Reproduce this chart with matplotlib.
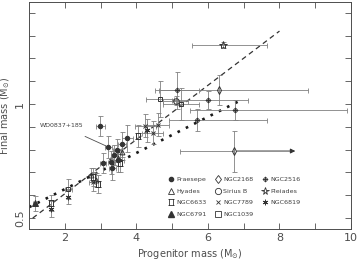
import matplotlib
matplotlib.use("Agg")
import matplotlib.pyplot as plt
from matplotlib.path import Path
from matplotlib.lines import Line2D

# cluster data: progenitor mass, final mass, errors
praesepe_x = [2.99, 3.21, 3.60, 3.74, 3.07, 3.32, 3.49, 3.46, 3.38, 3.30]
praesepe_y = [0.904, 0.812, 0.824, 0.850, 0.741, 0.718, 0.754, 0.797, 0.776, 0.745]
praesepe_xerr = [0.12, 0.10, 0.12, 0.15, 0.08, 0.10, 0.15, 0.12, 0.10, 0.10]
praesepe_yerr = [0.044, 0.05, 0.055, 0.06, 0.045, 0.05, 0.05, 0.05, 0.045, 0.05]

hyades_x = [2.72, 2.86, 3.48, 3.60]
hyades_y = [0.688, 0.668, 0.762, 0.79]
hyades_yerr = [0.03, 0.03, 0.035, 0.035]

ngc6633_x = [1.62, 2.78, 2.92, 3.55, 4.05]
ngc6633_y = [0.566, 0.68, 0.65, 0.74, 0.86]
ngc6633_yerr = [0.035, 0.04, 0.04, 0.04, 0.05]

ngc6791_x = [1.17]
ngc6791_y = [0.566]
ngc6791_yerr = [0.033]

ngc2168_x = [6.31, 6.73]
ngc2168_y = [1.061, 0.794]
ngc2168_xerr = [[1.8, 1.51], [2.5, 0.0]]
ngc2168_yerr = [0.065, 0.09]
arrow_to = 8.52  # lower limit on progenitor mass

siriusb_x = [5.10]
siriusb_y = [1.015]
siriusb_xerr = [0.35]
siriusb_yerr = [0.02]

ngc7789_x = [2.78, 4.25, 4.45, 4.60]
ngc7789_y = [0.66, 0.905, 0.875, 0.91]
ngc7789_yerr = [0.04, 0.05, 0.05, 0.05]
ngc7789_xerr = [0.1, 0.3, 0.3, 0.3]

ngc1039_x = [2.09, 4.66, 5.25]
ngc1039_y = [0.627, 1.022, 1.00]
ngc1039_yerr = [0.044, 0.08, 0.07]
ngc1039_xerr = [0.1, 0.4, 0.5]

ngc2516_x = [5.70, 6.00, 6.76, 5.14]
ngc2516_y = [0.93, 1.018, 0.974, 1.06]
ngc2516_xerr = [[0.8, 1.0, 1.26, 0.5], [1.96, 1.13, 3.14, 0.6]]
ngc2516_yerr = [0.05, 0.04, 0.045, 0.08]

pleiades_x = [6.43]
pleiades_y = [1.259]
pleiades_xerr = [[0.87], [1.23]]
pleiades_yerr = [0.015]

ngc6819_x = [1.62, 2.09, 4.30]
ngc6819_y = [0.54, 0.592, 0.885]
ngc6819_yerr = [0.036, 0.03, 0.05]

# fitted relations
dashed_x = [1.1, 8.0]
dashed_y = [0.50, 1.32]
dotted_x = [1.0, 6.96]
dotted_y = [0.548, 1.02]

# custom markers
bracket = Path([(-1, 1), (1, 1), (-1, -1), (1, -1), (-0.6, 1), (-0.6, -1), (0.6, 1), (0.6, -1)],
               [Path.MOVETO, Path.LINETO] * 4)
cross = Path([(-1.5, 0), (1.5, 0), (0, -1.5), (0, 1.5)], [Path.MOVETO, Path.LINETO] * 2)
circ_cross = Path.make_compound_path(Path.unit_circle(), cross)

ec = "0.2"
errc = "0.5"

fig = plt.figure(figsize=(3.6, 2.66), dpi=100)
ax = fig.add_axes([0.081, 0.139, 0.894, 0.853])

def pts(x, y, marker, filled=False, ms=3.5, xerr=None, yerr=None):
    ax.errorbar(x, y, xerr=xerr, yerr=yerr, fmt="none", ecolor=errc, elinewidth=0.6,
                capsize=1.8, capthick=0.6, zorder=2)
    ax.plot(x, y, ls="none", marker=marker, ms=ms, mec=ec, mew=0.7,
            mfc=ec if filled else "none", zorder=3)

ax.plot(dashed_x, dashed_y, ls=(0, (4, 3)), color="0.2", lw=0.9)
ax.plot(dotted_x, dotted_y, ls=(0, (1, 2.5)), color="0.1", lw=1.9)

pts(praesepe_x, praesepe_y, "o", True, 3.2, praesepe_xerr, praesepe_yerr)
pts(hyades_x, hyades_y, "^", False, 3.5, None, hyades_yerr)
pts(ngc6633_x, ngc6633_y, bracket, False, 4, None, ngc6633_yerr)
pts(ngc6791_x, ngc6791_y, "^", True, 4, [0.05], ngc6791_yerr)
pts(ngc2168_x, ngc2168_y, "d", False, 4, ngc2168_xerr, ngc2168_yerr)
pts(siriusb_x, siriusb_y, "o", False, 4, siriusb_xerr, siriusb_yerr)
pts(ngc7789_x, ngc7789_y, "x", False, 3.5, ngc7789_xerr, ngc7789_yerr)
pts(ngc1039_x, ngc1039_y, "s", False, 3.5, ngc1039_xerr, ngc1039_yerr)
pts(ngc2516_x, ngc2516_y, circ_cross, False, 4, ngc2516_xerr, ngc2516_yerr)
pts(pleiades_x, pleiades_y, "*", False, 6, pleiades_xerr, pleiades_yerr)
pts(ngc6819_x, ngc6819_y, (6, 2, 0), False, 4, None, ngc6819_yerr)

ax.annotate("", xy=(arrow_to, ngc2168_y[1]), xytext=(ngc2168_x[1], ngc2168_y[1]),
            arrowprops=dict(arrowstyle="-|>", color="0.2", lw=0.7, mutation_scale=7))
ax.annotate("WD0837+185", xy=(praesepe_x[1], praesepe_y[1]), xytext=(1.92, 0.904),
            fontsize=4.5, color="0.25", ha="center", va="center",
            arrowprops=dict(arrowstyle="-", color="0.3", lw=0.6, shrinkA=9, shrinkB=2))

ax.set_xlim(1, 10)
ax.set_ylim(0.452, 1.447)
ax.set_xticks([2, 4, 6, 8, 10])
ax.set_xticks([3, 5, 7, 9], minor=True)
ax.set_yticks([0.5, 1.0])
ax.set_yticklabels(["0.5", "1"], rotation=90, va="center")
ax.set_yticks([0.6, 0.7, 0.8, 0.9, 1.1, 1.2, 1.3, 1.4], minor=True)
ax.tick_params(which="both", direction="in", top=True, right=True, length=4, width=0.6,
               color="0.3", labelsize=8, labelcolor="0.3", pad=3)
for s in ax.spines.values():
    s.set_linewidth(0.7)
    s.set_color("0.3")
ax.set_xlabel(r"Progenitor mass (M$_{\odot}$)", fontsize=7, color="0.3", labelpad=3)
ax.set_ylabel(r"Final mass (M$_{\odot}$)", fontsize=7, color="0.3", labelpad=2)

handles = [
    Line2D([], [], ls="none", marker="o", ms=3, mfc=ec, mec=ec),
    Line2D([], [], ls="none", marker="^", ms=4, mfc="none", mec=ec, mew=0.6),
    Line2D([], [], ls="none", marker=bracket, ms=4, mfc="none", mec=ec, mew=0.6),
    Line2D([], [], ls="none", marker="^", ms=4, mfc=ec, mec=ec),
    Line2D([], [], ls="none", marker="d", ms=4.5, mfc="none", mec=ec, mew=0.6),
    Line2D([], [], ls="none", marker="o", ms=4.5, mfc="none", mec=ec, mew=0.6),
    Line2D([], [], ls="none", marker="x", ms=3.5, mfc="none", mec=ec, mew=0.6),
    Line2D([], [], ls="none", marker="s", ms=4, mfc="none", mec=ec, mew=0.6),
    Line2D([], [], ls="none", marker=circ_cross, ms=4, mfc="none", mec=ec, mew=0.6),
    Line2D([], [], ls="none", marker="*", ms=5.5, mfc="none", mec=ec, mew=0.6),
    Line2D([], [], ls="none", marker=(6, 2, 0), ms=4, mfc="none", mec=ec, mew=0.6),
]
labels = ["Praesepe", "Hyades", "NGC6633", "NGC6791", "NGC2168", "Sirius B",
          "NGC7789", "NGC1039", "NGC2516", "Pleiades", "NGC6819"]
leg = ax.legend(handles, labels, ncol=3, loc="upper left", bbox_to_anchor=(0.42, 0.25),
                frameon=False, fontsize=4.6, handlelength=0.8, handletextpad=0.4,
                columnspacing=1.4, labelspacing=0.95, borderpad=0.2)
for t in leg.get_texts():
    t.set_color("0.25")

fig.savefig("out.png", dpi=100)
